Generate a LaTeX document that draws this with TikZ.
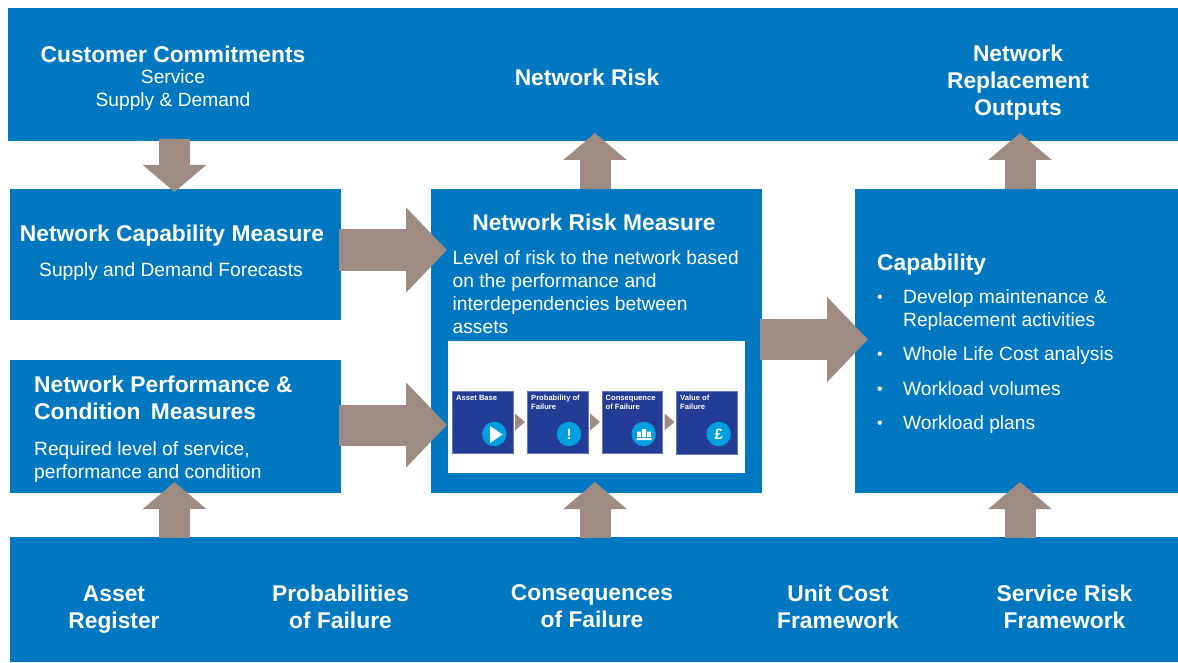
\documentclass[tikz,border=0pt]{standalone}
\usepackage{fontspec}
\setmainfont{Liberation Sans}
\usetikzlibrary{arrows.meta}
\definecolor{mainblue}{HTML}{0078C1}
\definecolor{arrowtaupe}{HTML}{9E8C82}
\definecolor{navybox}{HTML}{233D96}
\definecolor{iconblue}{HTML}{009FDF}
\tikzset{
 panel/.style={fill=mainblue,draw=none,inner sep=0pt,outer sep=0pt,anchor=north west},
 head/.style={text=white,font=\bfseries\fontsize{22.8}{26.8}\selectfont,align=center,inner sep=0pt},
 body/.style={text=white,font=\fontsize{19.2}{23}\selectfont,align=left,inner sep=0pt},
 item/.style={body,anchor=west,text height=14pt,text depth=4pt},
 blockv/.style={draw=arrowtaupe,line width=31pt,-{Triangle[length=27pt,width=62pt,fill=arrowtaupe]},shorten >=0pt},
 blockh/.style={draw=arrowtaupe,line width=41pt,-{Triangle[length=41pt,width=83pt,fill=arrowtaupe]}},
 mini/.style={fill=navybox,draw=navybox!70!white,line width=.5pt,inner sep=0pt,outer sep=0pt,anchor=north west,minimum width=60.5pt,minimum height=62pt},
 minitext/.style={text=white,font=\bfseries\fontsize{7.6}{9}\selectfont,align=left,inner sep=0pt,anchor=north west},
 badge/.style={circle,fill=iconblue,minimum size=24.5pt,inner sep=0pt,text=white,font=\bfseries\fontsize{15}{15}\selectfont},
 minitip/.style={fill=arrowtaupe,draw=none},
}
\begin{document}
\begin{tikzpicture}[x=1pt,y=-1pt]
\useasboundingbox (0,0) rectangle (1178,663);
% panels
\node[panel,minimum width=1170pt,minimum height=133pt] (top) at (8,8) {};
\node[panel,minimum width=331pt,minimum height=131pt] (cap) at (10,189) {};
\node[panel,minimum width=331pt,minimum height=133pt] (perf) at (10,360) {};
\node[panel,minimum width=331pt,minimum height=304pt] (risk) at (431,189) {};
\node[panel,minimum width=323pt,minimum height=304pt] (capab) at (855,189) {};
\node[panel,minimum width=1168pt,minimum height=125pt] (bottom) at (10,537) {};
\node[fill=white,inner sep=0pt,outer sep=0pt,anchor=north west,minimum width=297pt,minimum height=132pt] (white) at (448,341) {};
% connector ends
\coordinate (a1s) at (174.5,139); \coordinate (a1e) at (174.5,192);
\coordinate (a2s) at (339,250); \coordinate (a2e) at (447,250);
\coordinate (a3s) at (339,425); \coordinate (a3e) at (447,425);
\coordinate (a4s) at (595,189); \coordinate (a4e) at (595,133);
\coordinate (a5s) at (1020,189); \coordinate (a5e) at (1020,133);
\coordinate (a6s) at (760,339.5); \coordinate (a6e) at (868,339.5);
\coordinate (a7s) at (174.5,538); \coordinate (a7e) at (174.5,482);
\coordinate (a8s) at (595,538); \coordinate (a8e) at (595,482);
\coordinate (a9s) at (1020,538); \coordinate (a9e) at (1020,482);
\foreach \n in {1,4,5,7,8,9} \draw[blockv] (a\n s) -- (a\n e);
\foreach \n in {2,3,6} \draw[blockh] (a\n s) -- (a\n e);
% top text
\node[head] (t1) at (173,54) {Customer Commitments};
\node[body,align=center] (t2) at (173,90) {Service\\Supply \& Demand};
\node[head] (t3) at (587,77.5) {Network Risk};
\node[head] (t4) at (1018,82.5) {Network\\Replacement\\Outputs};
% capability measure
\node[head] (c1) at (172,236) {Network Capability Measure};
\node[body] (c2) at (171,271.5) {Supply and Demand Forecasts};
% performance
\node[head,align=left,anchor=north west] (p1) at (34,376) {Network Performance \&\\Condition\ \hspace{4pt}Measures};
\node[body,anchor=north west] (p2) at (34,441) {Required level of service,\\performance and condition};
% risk
\node[head] (r1) at (594,222) {Network Risk Measure};
\node[body,anchor=north west] (r2) at (452.5,250) {Level of risk to the network based\\on the performance and\\interdependencies between\\assets};
% capability
\node[head,anchor=west] (k1) at (877,265) {Capability};
\foreach \yy/\txt/\nm in {298/{Develop maintenance \&}/k2,321/{Replacement activities}/k3,355.5/{Whole Life Cost analysis}/k4,390/{Workload volumes}/k5,424.5/{Workload plans}/k6}
  \node[item] (\nm) at (903,\yy) {\txt};
\foreach \yy/\nm in {297/d1,354.5/d2,389/d3,423.5/d4}
  \node[body,anchor=center,font=\fontsize{16}{16}\selectfont] (\nm) at (880,\yy+1.5) {•};
% bottom
\node[head] (b1) at (114,609.5) {Asset\\Register};
\node[head] (b2) at (340.5,606.5) {Probabilities\\of Failure};
\node[head] (b3) at (592,606.5) {Consequences\\of Failure};
\node[head] (b4) at (838,606.5) {Unit Cost\\Framework};
\node[head] (b5) at (1064.5,606.5) {Service Risk\\Framework};
% mini boxes
\node[mini] (m1) at (452.5,391) {};
\node[mini] (m2) at (527.5,391) {};
\node[mini] (m3) at (602,391) {};
\node[mini,minimum height=62.5pt] (m4) at (676.5,391.5) {};
\node[minitext] at (456,395) {Asset Base};
\node[minitext] at (531,395) {Probability of\\Failure};
\node[minitext] at (605.5,395) {Consequence\\of Failure};
\node[minitext] at (680,395) {Value of\\Failure};
\foreach \a/\b in {m1/m2,m2/m3,m3/m4}
  \fill[minitip] ([xshift=2pt,yshift=-8.5pt]\a.east) -- ([xshift=12pt]\a.east) -- ([xshift=2pt,yshift=8.5pt]\a.east) -- cycle;
\node[badge] (i1) at (494.3,434) {};
\node[badge] (i2) at (569,434) {!};
\node[badge] (i3) at (643.7,434) {};
\node[badge] (i4) at (718.7,434) {£};
\fill[white] (490,426) -- (502.5,434.5) -- (490,443) -- cycle;
\fill[white] (637,431.5) rectangle (641,437) (642,429) rectangle (646,437) (647,431.5) rectangle (651,437) (636.5,438) rectangle (651.5,440);
\end{tikzpicture}
\end{document}
